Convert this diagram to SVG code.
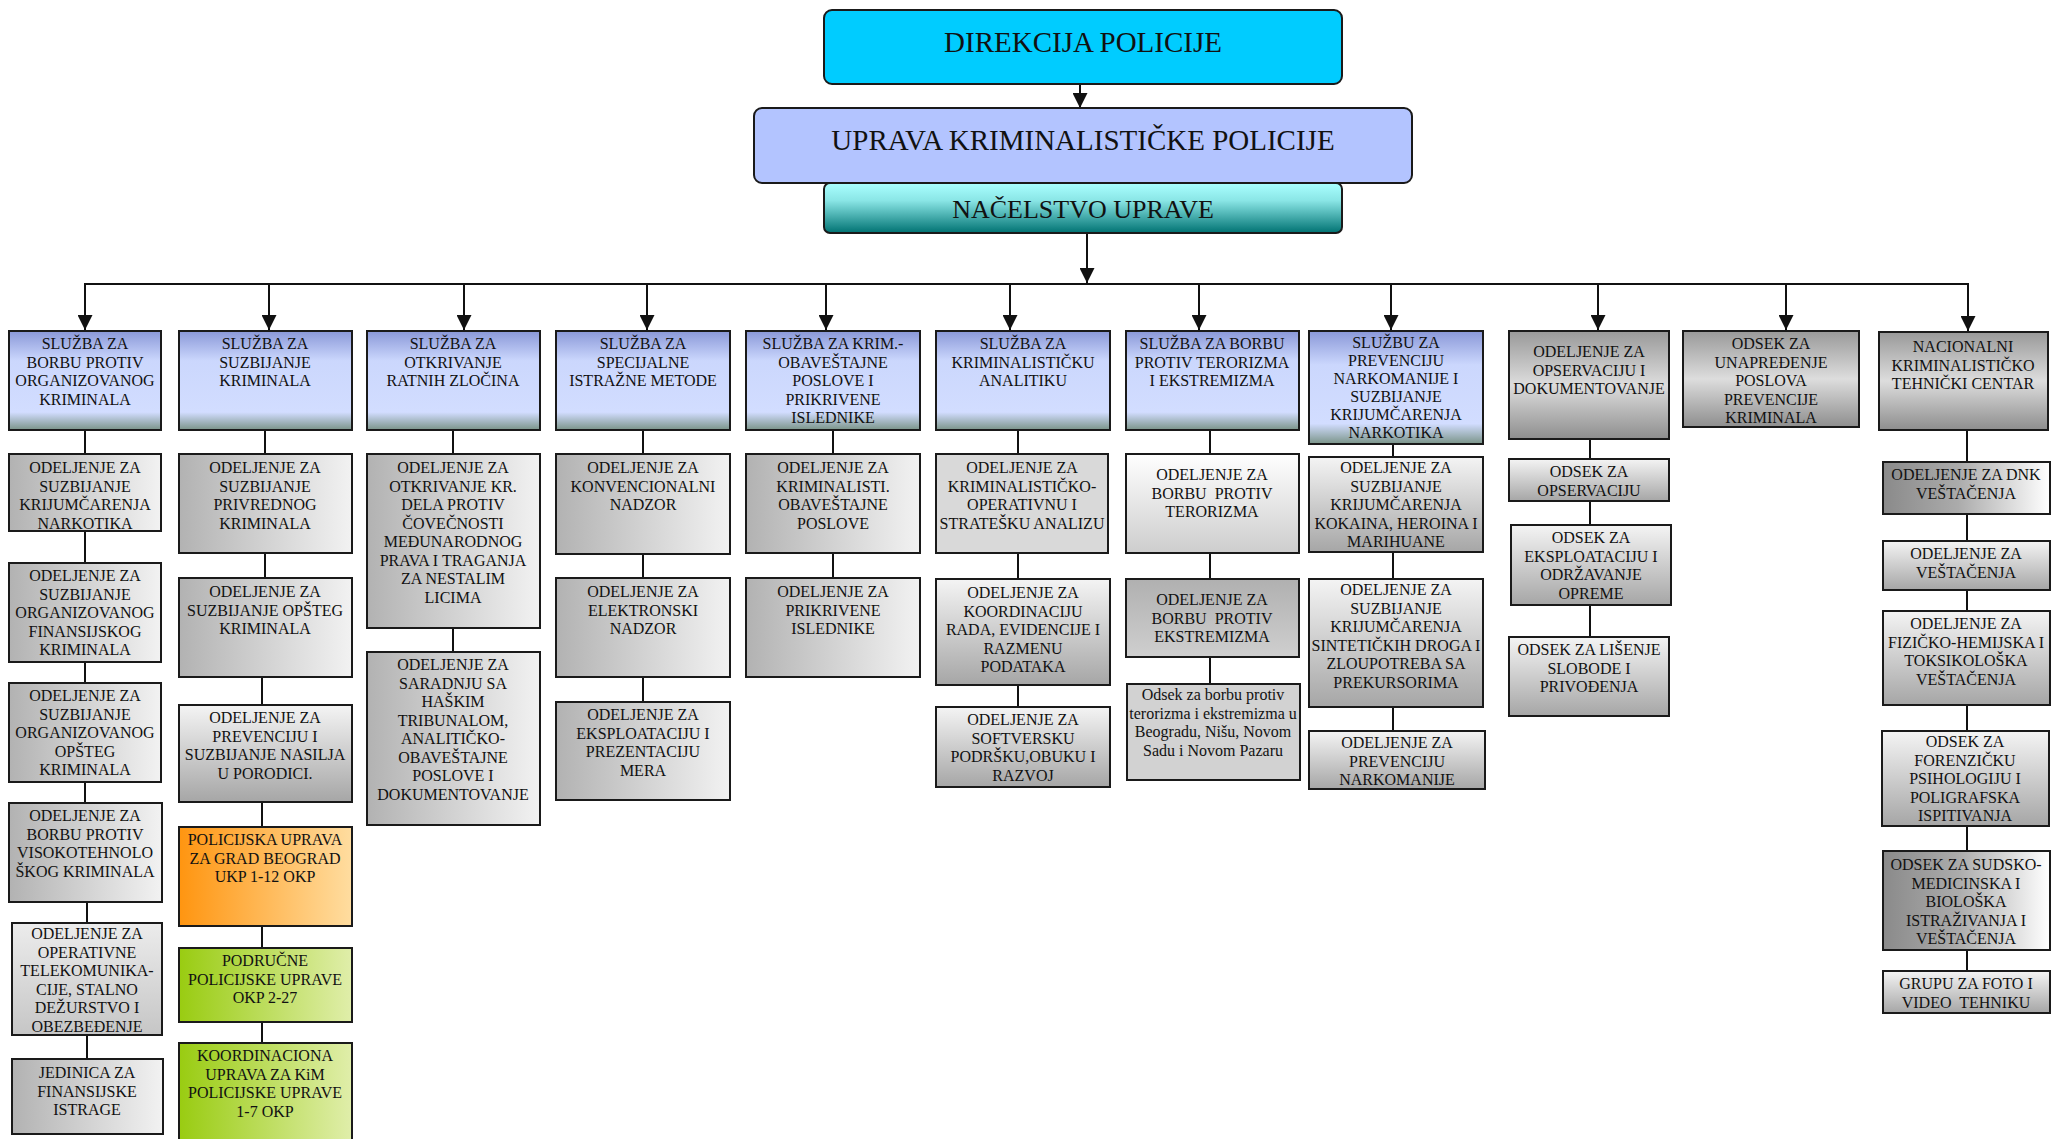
<svg xmlns="http://www.w3.org/2000/svg" width="2051" height="1139" viewBox="0 0 2051 1139">
<style>
.b{stroke:#1a1a1a;stroke-width:2}
.t{font-family:"Liberation Serif","Times New Roman",serif;font-size:16px;fill:#111;text-anchor:middle}
.big{font-family:"Liberation Serif","Times New Roman",serif;fill:#111;text-anchor:middle}
.c{stroke:#111;stroke-width:2;fill:none}
.a{stroke:#111;stroke-width:2;fill:none;marker-end:url(#ar)}
</style>
<defs>
<marker id="ar" viewBox="0 0 10 10" refX="10" refY="5" markerWidth="15" markerHeight="15" markerUnits="userSpaceOnUse" orient="auto"><path d="M0,0 L10,5 L0,10 z" fill="#111"/></marker>
<linearGradient id="blue" x1="0" y1="0" x2="0" y2="1"><stop offset="0" stop-color="#8a98d8"/><stop offset="0.3" stop-color="#cbd7fd"/><stop offset="0.82" stop-color="#d2ddff"/><stop offset="1" stop-color="#7a9488"/></linearGradient>
<linearGradient id="hg" x1="0" y1="0" x2="1" y2="0"><stop offset="0" stop-color="#b2b2b2"/><stop offset="1" stop-color="#f2f2f2"/></linearGradient>
<linearGradient id="vg" x1="0" y1="0" x2="0" y2="1"><stop offset="0" stop-color="#f4f4f4"/><stop offset="1" stop-color="#a6a6a6"/></linearGradient>
<linearGradient id="vl" x1="0" y1="0" x2="0" y2="1"><stop offset="0" stop-color="#ececec"/><stop offset="1" stop-color="#c6c6c6"/></linearGradient>
<linearGradient id="vw" x1="0" y1="0" x2="0" y2="1"><stop offset="0" stop-color="#ffffff"/><stop offset="1" stop-color="#cdcdcd"/></linearGradient>
<linearGradient id="vd" x1="0" y1="0" x2="0" y2="1"><stop offset="0" stop-color="#b0b0b0"/><stop offset="1" stop-color="#cfcfcf"/></linearGradient>
<linearGradient id="vm" x1="0" y1="0" x2="0" y2="1"><stop offset="0" stop-color="#999999"/><stop offset="0.5" stop-color="#dddddd"/><stop offset="1" stop-color="#8e8e8e"/></linearGradient>
<linearGradient id="dk" x1="0" y1="0" x2="1" y2="0"><stop offset="0" stop-color="#8a8a8a"/><stop offset="0.45" stop-color="#ababab"/><stop offset="1" stop-color="#ffffff"/></linearGradient>
<linearGradient id="or" x1="0" y1="0" x2="1" y2="0"><stop offset="0" stop-color="#ff9510"/><stop offset="1" stop-color="#ffdda0"/></linearGradient>
<linearGradient id="gr" x1="0" y1="0" x2="1" y2="0"><stop offset="0" stop-color="#99cc11"/><stop offset="1" stop-color="#e0eeaa"/></linearGradient>
<linearGradient id="teal" x1="0" y1="0" x2="0" y2="1"><stop offset="0" stop-color="#aaffff"/><stop offset="0.35" stop-color="#8ae6e6"/><stop offset="1" stop-color="#007272"/></linearGradient>
</defs>

<g id="connectors">
<path class="a" d="M1080,84 V108"/>
<path class="a" d="M1087,233 V283"/>
<path class="c" d="M84,284 H1969" stroke-width="2.5"/>
<path class="a" d="M85,284 V330"/>
<path class="a" d="M269,284 V330"/>
<path class="a" d="M464,284 V330"/>
<path class="a" d="M647,284 V330"/>
<path class="a" d="M826,284 V330"/>
<path class="a" d="M1010,284 V330"/>
<path class="a" d="M1199,284 V330"/>
<path class="a" d="M1391,284 V330"/>
<path class="a" d="M1598,284 V330"/>
<path class="a" d="M1786,284 V330"/>
<path class="a" d="M1968,284 V331"/>
<path class="c" d="M85,430 V454 M85,531 V563 M85,662 V683 M85,782 V803 M87,902 V923 M87,1035 V1059"/>
<path class="c" d="M265,430 V454 M265,553 V578 M262,677 V705 M262,802 V827 M262,926 V948 M262,1022 V1043"/>
<path class="c" d="M453,430 V454 M453,628 V652"/>
<path class="c" d="M643,430 V454 M643,554 V578 M643,677 V702"/>
<path class="c" d="M833,430 V454 M833,553 V578"/>
<path class="c" d="M1018,430 V454 M1018,553 V579 M1018,685 V707"/>
<path class="c" d="M1210,430 V454 M1210,553 V579 M1210,657 V684"/>
<path class="c" d="M1393,444 V457 M1393,552 V579 M1393,707 V731"/>
<path class="c" d="M1590,439 V459 M1590,501 V525 M1590,605 V637"/>
<path class="c" d="M1967,430 V462 M1967,514 V541 M1967,590 V611 M1967,705 V731 M1967,826 V851 M1967,950 V971"/>
</g>

<g id="direkcija"><rect class="b" x="824" y="10" width="518" height="74" rx="8" fill="#00ccff"/><text class="big" x="1083" y="52" font-size="29">DIREKCIJA POLICIJE</text></g>
<g id="uprava"><rect class="b" x="754" y="108" width="658" height="75" rx="8" fill="#b3c4ff"/><text class="big" x="1083" y="150" font-size="29">UPRAVA KRIMINALISTIČKE POLICIJE</text></g>
<g id="nacelstvo"><rect class="b" x="824" y="183" width="518" height="50" rx="6" fill="url(#teal)"/><text class="big" x="1083" y="218" font-size="26">NAČELSTVO UPRAVE</text></g>

<g id="c1-l1"><rect class="b" x="9" y="331" width="152" height="99" fill="url(#blue)"/><text class="t" y="349"><tspan x="85">SLUŽBA ZA</tspan><tspan x="85" dy="18.5">BORBU PROTIV</tspan><tspan x="85" dy="18.5">ORGANIZOVANOG</tspan><tspan x="85" dy="18.5">KRIMINALA</tspan></text></g>
<g id="c1-1"><rect class="b" x="9" y="454" width="152" height="77" fill="url(#hg)"/><text class="t" y="473"><tspan x="85">ODELJENJE ZA</tspan><tspan x="85" dy="18.5">SUZBIJANJE</tspan><tspan x="85" dy="18.5">KRIJUMČARENJA</tspan><tspan x="85" dy="18.5">NARKOTIKA</tspan></text></g>
<g id="c1-2"><rect class="b" x="9" y="563" width="152" height="99" fill="url(#hg)"/><text class="t" y="581"><tspan x="85">ODELJENJE ZA</tspan><tspan x="85" dy="18.5">SUZBIJANJE</tspan><tspan x="85" dy="18.5">ORGANIZOVANOG</tspan><tspan x="85" dy="18.5">FINANSIJSKOG</tspan><tspan x="85" dy="18.5">KRIMINALA</tspan></text></g>
<g id="c1-3"><rect class="b" x="9" y="683" width="152" height="99" fill="url(#hg)"/><text class="t" y="701"><tspan x="85">ODELJENJE ZA</tspan><tspan x="85" dy="18.5">SUZBIJANJE</tspan><tspan x="85" dy="18.5">ORGANIZOVANOG</tspan><tspan x="85" dy="18.5">OPŠTEG</tspan><tspan x="85" dy="18.5">KRIMINALA</tspan></text></g>
<g id="c1-4"><rect class="b" x="9" y="803" width="153" height="99" fill="url(#hg)"/><text class="t" y="821"><tspan x="85">ODELJENJE ZA</tspan><tspan x="85" dy="18.5">BORBU PROTIV</tspan><tspan x="85" dy="18.5">VISOKOTEHNOLO</tspan><tspan x="85" dy="18.5">ŠKOG KRIMINALA</tspan></text></g>
<g id="c1-5"><rect class="b" x="12" y="923" width="150" height="112" fill="url(#vl)"/><text class="t" y="939"><tspan x="87">ODELJENJE ZA</tspan><tspan x="87" dy="18.5">OPERATIVNE</tspan><tspan x="87" dy="18.5">TELEKOMUNIKA-</tspan><tspan x="87" dy="18.5">CIJE, STALNO</tspan><tspan x="87" dy="18.5">DEŽURSTVO I</tspan><tspan x="87" dy="18.5">OBEZBEĐENJE</tspan></text></g>
<g id="c1-6"><rect class="b" x="12" y="1059" width="151" height="75" fill="url(#hg)"/><text class="t" y="1078"><tspan x="87">JEDINICA ZA</tspan><tspan x="87" dy="18.5">FINANSIJSKE</tspan><tspan x="87" dy="18.5">ISTRAGE</tspan></text></g>

<g id="c2-l1"><rect class="b" x="179" y="331" width="173" height="99" fill="url(#blue)"/><text class="t" y="349"><tspan x="265">SLUŽBA ZA</tspan><tspan x="265" dy="18.5">SUZBIJANJE</tspan><tspan x="265" dy="18.5">KRIMINALA</tspan></text></g>
<g id="c2-1"><rect class="b" x="179" y="454" width="173" height="99" fill="url(#hg)"/><text class="t" y="473"><tspan x="265">ODELJENJE ZA</tspan><tspan x="265" dy="18.5">SUZBIJANJE</tspan><tspan x="265" dy="18.5">PRIVREDNOG</tspan><tspan x="265" dy="18.5">KRIMINALA</tspan></text></g>
<g id="c2-2"><rect class="b" x="179" y="578" width="173" height="99" fill="url(#hg)"/><text class="t" y="597"><tspan x="265">ODELJENJE ZA</tspan><tspan x="265" dy="18.5">SUZBIJANJE OPŠTEG</tspan><tspan x="265" dy="18.5">KRIMINALA</tspan></text></g>
<g id="c2-3"><rect class="b" x="179" y="705" width="173" height="97" fill="url(#vg)"/><text class="t" y="723"><tspan x="265">ODELJENJE ZA</tspan><tspan x="265" dy="18.5">PREVENCIJU I</tspan><tspan x="265" dy="18.5">SUZBIJANJE NASILJA</tspan><tspan x="265" dy="18.5">U PORODICI.</tspan></text></g>
<g id="c2-4"><rect class="b" x="179" y="827" width="173" height="99" fill="url(#or)"/><text class="t" y="845"><tspan x="265">POLICIJSKA UPRAVA</tspan><tspan x="265" dy="18.5">ZA GRAD BEOGRAD</tspan><tspan x="265" dy="18.5">UKP 1-12 OKP</tspan></text></g>
<g id="c2-5"><rect class="b" x="179" y="948" width="173" height="74" fill="url(#gr)"/><text class="t" y="966"><tspan x="265">PODRUČNE</tspan><tspan x="265" dy="18.5">POLICIJSKE UPRAVE</tspan><tspan x="265" dy="18.5">OKP 2-27</tspan></text></g>
<g id="c2-6"><rect class="b" x="179" y="1043" width="173" height="100" fill="url(#gr)" stroke-width="3"/><text class="t" y="1061"><tspan x="265">KOORDINACIONA</tspan><tspan x="265" dy="18.5">UPRAVA ZA KiM</tspan><tspan x="265" dy="18.5">POLICIJSKE UPRAVE</tspan><tspan x="265" dy="18.5">1-7 OKP</tspan></text></g>

<g id="c3-l1"><rect class="b" x="367" y="331" width="173" height="99" fill="url(#blue)"/><text class="t" y="349"><tspan x="453">SLUŽBA ZA</tspan><tspan x="453" dy="18.5">OTKRIVANJE</tspan><tspan x="453" dy="18.5">RATNIH ZLOČINA</tspan></text></g>
<g id="c3-1"><rect class="b" x="367" y="454" width="173" height="174" fill="url(#hg)"/><text class="t" y="473"><tspan x="453">ODELJENJE ZA</tspan><tspan x="453" dy="18.5">OTKRIVANJE KR.</tspan><tspan x="453" dy="18.5">DELA PROTIV</tspan><tspan x="453" dy="18.5">ČOVEČNOSTI</tspan><tspan x="453" dy="18.5">MEĐUNARODNOG</tspan><tspan x="453" dy="18.5">PRAVA I TRAGANJA</tspan><tspan x="453" dy="18.5">ZA NESTALIM</tspan><tspan x="453" dy="18.5">LICIMA</tspan></text></g>
<g id="c3-2"><rect class="b" x="367" y="652" width="173" height="173" fill="url(#hg)"/><text class="t" y="670"><tspan x="453">ODELJENJE ZA</tspan><tspan x="453" dy="18.5">SARADNJU SA</tspan><tspan x="453" dy="18.5">HAŠKIM</tspan><tspan x="453" dy="18.5">TRIBUNALOM,</tspan><tspan x="453" dy="18.5">ANALITIČKO-</tspan><tspan x="453" dy="18.5">OBAVEŠTAJNE</tspan><tspan x="453" dy="18.5">POSLOVE I</tspan><tspan x="453" dy="18.5">DOKUMENTOVANJE</tspan></text></g>

<g id="c4-l1"><rect class="b" x="556" y="331" width="174" height="99" fill="url(#blue)"/><text class="t" y="349"><tspan x="643">SLUŽBA ZA</tspan><tspan x="643" dy="18.5">SPECIJALNE</tspan><tspan x="643" dy="18.5">ISTRAŽNE METODE</tspan></text></g>
<g id="c4-1"><rect class="b" x="556" y="454" width="174" height="100" fill="url(#hg)"/><text class="t" y="473"><tspan x="643">ODELJENJE ZA</tspan><tspan x="643" dy="18.5">KONVENCIONALNI</tspan><tspan x="643" dy="18.5">NADZOR</tspan></text></g>
<g id="c4-2"><rect class="b" x="556" y="578" width="174" height="99" fill="url(#hg)"/><text class="t" y="597"><tspan x="643">ODELJENJE ZA</tspan><tspan x="643" dy="18.5">ELEKTRONSKI</tspan><tspan x="643" dy="18.5">NADZOR</tspan></text></g>
<g id="c4-3"><rect class="b" x="556" y="702" width="174" height="98" fill="url(#hg)"/><text class="t" y="720"><tspan x="643">ODELJENJE ZA</tspan><tspan x="643" dy="18.5">EKSPLOATACIJU I</tspan><tspan x="643" dy="18.5">PREZENTACIJU</tspan><tspan x="643" dy="18.5">MERA</tspan></text></g>

<g id="c5-l1"><rect class="b" x="746" y="331" width="174" height="99" fill="url(#blue)"/><text class="t" y="349"><tspan x="833">SLUŽBA ZA KRIM.-</tspan><tspan x="833" dy="18.5">OBAVEŠTAJNE</tspan><tspan x="833" dy="18.5">POSLOVE I</tspan><tspan x="833" dy="18.5">PRIKRIVENE</tspan><tspan x="833" dy="18.5">ISLEDNIKE</tspan></text></g>
<g id="c5-1"><rect class="b" x="746" y="454" width="174" height="99" fill="url(#hg)"/><text class="t" y="473"><tspan x="833">ODELJENJE ZA</tspan><tspan x="833" dy="18.5">KRIMINALISTI.</tspan><tspan x="833" dy="18.5">OBAVEŠTAJNE</tspan><tspan x="833" dy="18.5">POSLOVE</tspan></text></g>
<g id="c5-2"><rect class="b" x="746" y="578" width="174" height="99" fill="url(#hg)"/><text class="t" y="597"><tspan x="833">ODELJENJE ZA</tspan><tspan x="833" dy="18.5">PRIKRIVENE</tspan><tspan x="833" dy="18.5">ISLEDNIKE</tspan></text></g>

<g id="c6-l1"><rect class="b" x="936" y="331" width="174" height="99" fill="url(#blue)"/><text class="t" y="349"><tspan x="1023">SLUŽBA ZA</tspan><tspan x="1023" dy="18.5">KRIMINALISTIČKU</tspan><tspan x="1023" dy="18.5">ANALITIKU</tspan></text></g>
<g id="c6-1"><rect class="b" x="936" y="454" width="172" height="99" fill="#d9d9d9"/><text class="t" y="473"><tspan x="1022">ODELJENJE ZA</tspan><tspan x="1022" dy="18.5">KRIMINALISTIČKO-</tspan><tspan x="1022" dy="18.5">OPERATIVNU I</tspan><tspan x="1022" dy="18.5">STRATEŠKU ANALIZU</tspan></text></g>
<g id="c6-2"><rect class="b" x="936" y="579" width="174" height="106" fill="url(#vg)"/><text class="t" y="598"><tspan x="1023">ODELJENJE ZA</tspan><tspan x="1023" dy="18.5">KOORDINACIJU</tspan><tspan x="1023" dy="18.5">RADA, EVIDENCIJE I</tspan><tspan x="1023" dy="18.5">RAZMENU</tspan><tspan x="1023" dy="18.5">PODATAKA</tspan></text></g>
<g id="c6-3"><rect class="b" x="936" y="707" width="174" height="80" fill="url(#vg)"/><text class="t" y="725"><tspan x="1023">ODELJENJE ZA</tspan><tspan x="1023" dy="18.5">SOFTVERSKU</tspan><tspan x="1023" dy="18.5">PODRŠKU,OBUKU I</tspan><tspan x="1023" dy="18.5">RAZVOJ</tspan></text></g>

<g id="c7-l1"><rect class="b" x="1126" y="331" width="173" height="99" fill="url(#blue)"/><text class="t" y="349"><tspan x="1212">SLUŽBA ZA BORBU</tspan><tspan x="1212" dy="18.5">PROTIV TERORIZMA</tspan><tspan x="1212" dy="18.5">I EKSTREMIZMA</tspan></text></g>
<g id="c7-1"><rect class="b" x="1126" y="454" width="173" height="99" fill="url(#vw)"/><text class="t" y="480"><tspan x="1212">ODELJENJE ZA</tspan><tspan x="1212" dy="18.5" xml:space="preserve">BORBU  PROTIV</tspan><tspan x="1212" dy="18.5">TERORIZMA</tspan></text></g>
<g id="c7-2"><rect class="b" x="1126" y="579" width="173" height="78" fill="url(#vd)"/><text class="t" y="605"><tspan x="1212">ODELJENJE ZA</tspan><tspan x="1212" dy="18.5" xml:space="preserve">BORBU  PROTIV</tspan><tspan x="1212" dy="18.5">EKSTREMIZMA</tspan></text></g>
<g id="c7-3"><rect class="b" x="1127" y="684" width="173" height="96" fill="#d2d2d2"/><text class="t" y="700"><tspan x="1213">Odsek za borbu protiv</tspan><tspan x="1213" dy="18.5">terorizma i ekstremizma u</tspan><tspan x="1213" dy="18.5">Beogradu, Nišu, Novom</tspan><tspan x="1213" dy="18.5">Sadu i Novom Pazaru</tspan></text></g>

<g id="c8-l1"><rect class="b" x="1309" y="331" width="174" height="113" fill="url(#blue)"/><text class="t" y="348"><tspan x="1396">SLUŽBU ZA</tspan><tspan x="1396" dy="18">PREVENCIJU</tspan><tspan x="1396" dy="18">NARKOMANIJE I</tspan><tspan x="1396" dy="18">SUZBIJANJE</tspan><tspan x="1396" dy="18">KRIJUMČARENJA</tspan><tspan x="1396" dy="18">NARKOTIKA</tspan></text></g>
<g id="c8-1"><rect class="b" x="1309" y="457" width="174" height="95" fill="url(#vg)"/><text class="t" y="473"><tspan x="1396">ODELJENJE ZA</tspan><tspan x="1396" dy="18.5">SUZBIJANJE</tspan><tspan x="1396" dy="18.5">KRIJUMČARENJA</tspan><tspan x="1396" dy="18.5">KOKAINA, HEROINA I</tspan><tspan x="1396" dy="18.5">MARIHUANE</tspan></text></g>
<g id="c8-2"><rect class="b" x="1309" y="579" width="174" height="128" fill="url(#vg)"/><text class="t" y="595"><tspan x="1396">ODELJENJE ZA</tspan><tspan x="1396" dy="18.5">SUZBIJANJE</tspan><tspan x="1396" dy="18.5">KRIJUMČARENJA</tspan><tspan x="1396" dy="18.5">SINTETIČKIH DROGA I</tspan><tspan x="1396" dy="18.5">ZLOUPOTREBA SA</tspan><tspan x="1396" dy="18.5">PREKURSORIMA</tspan></text></g>
<g id="c8-3"><rect class="b" x="1309" y="731" width="176" height="58" fill="url(#vg)"/><text class="t" y="748"><tspan x="1397">ODELJENJE ZA</tspan><tspan x="1397" dy="18.5">PREVENCIJU</tspan><tspan x="1397" dy="18.5">NARKOMANIJE</tspan></text></g>

<g id="c9-l1"><rect class="b" x="1509" y="331" width="160" height="108" fill="url(#vm)"/><text class="t" y="357"><tspan x="1589">ODELJENJE ZA</tspan><tspan x="1589" dy="18.5">OPSERVACIJU I</tspan><tspan x="1589" dy="18.5">DOKUMENTOVANJE</tspan></text></g>
<g id="c9-1"><rect class="b" x="1509" y="459" width="160" height="42" fill="url(#vg)"/><text class="t" y="477"><tspan x="1589">ODSEK ZA</tspan><tspan x="1589" dy="18.5">OPSERVACIJU</tspan></text></g>
<g id="c9-2"><rect class="b" x="1511" y="525" width="160" height="80" fill="url(#vg)"/><text class="t" y="543"><tspan x="1591">ODSEK ZA</tspan><tspan x="1591" dy="18.5">EKSPLOATACIJU I</tspan><tspan x="1591" dy="18.5">ODRŽAVANJE</tspan><tspan x="1591" dy="18.5">OPREME</tspan></text></g>
<g id="c9-3"><rect class="b" x="1509" y="637" width="160" height="79" fill="url(#vg)"/><text class="t" y="655"><tspan x="1589">ODSEK ZA LIŠENJE</tspan><tspan x="1589" dy="18.5">SLOBODE I</tspan><tspan x="1589" dy="18.5">PRIVOĐENJA</tspan></text></g>

<g id="c10-l1"><rect class="b" x="1683" y="331" width="176" height="96" fill="url(#vm)"/><text class="t" y="349"><tspan x="1771">ODSEK ZA</tspan><tspan x="1771" dy="18.5">UNAPREĐENJE</tspan><tspan x="1771" dy="18.5">POSLOVA</tspan><tspan x="1771" dy="18.5">PREVENCIJE</tspan><tspan x="1771" dy="18.5">KRIMINALA</tspan></text></g>

<g id="c11-l1"><rect class="b" x="1879" y="332" width="169" height="98" fill="url(#vm)"/><text class="t" y="352"><tspan x="1963">NACIONALNI</tspan><tspan x="1963" dy="18.5">KRIMINALISTIČKO</tspan><tspan x="1963" dy="18.5">TEHNIČKI CENTAR</tspan></text></g>
<g id="c11-1"><rect class="b" x="1883" y="462" width="167" height="52" fill="url(#dk)"/><text class="t" y="480"><tspan x="1966">ODELJENJE ZA DNK</tspan><tspan x="1966" dy="18.5">VEŠTAČENJA</tspan></text></g>
<g id="c11-2"><rect class="b" x="1883" y="541" width="167" height="49" fill="url(#vg)"/><text class="t" y="559"><tspan x="1966">ODELJENJE ZA</tspan><tspan x="1966" dy="18.5">VEŠTAČENJA</tspan></text></g>
<g id="c11-3"><rect class="b" x="1883" y="611" width="167" height="94" fill="url(#vg)"/><text class="t" y="629"><tspan x="1966">ODELJENJE ZA</tspan><tspan x="1966" dy="18.5">FIZIČKO-HEMIJSKA I</tspan><tspan x="1966" dy="18.5">TOKSIKOLOŠKA</tspan><tspan x="1966" dy="18.5">VEŠTAČENJA</tspan></text></g>
<g id="c11-4"><rect class="b" x="1882" y="731" width="167" height="95" fill="url(#vg)"/><text class="t" y="747"><tspan x="1965">ODSEK ZA</tspan><tspan x="1965" dy="18.5">FORENZIČKU</tspan><tspan x="1965" dy="18.5">PSIHOLOGIJU I</tspan><tspan x="1965" dy="18.5">POLIGRAFSKA</tspan><tspan x="1965" dy="18.5">ISPITIVANJA</tspan></text></g>
<g id="c11-5"><rect class="b" x="1883" y="851" width="167" height="99" fill="url(#dk)"/><text class="t" y="870"><tspan x="1966">ODSEK ZA SUDSKO-</tspan><tspan x="1966" dy="18.5">MEDICINSKA I</tspan><tspan x="1966" dy="18.5">BIOLOŠKA</tspan><tspan x="1966" dy="18.5">ISTRAŽIVANJA I</tspan><tspan x="1966" dy="18.5">VEŠTAČENJA</tspan></text></g>
<g id="c11-6"><rect class="b" x="1883" y="971" width="167" height="42" fill="url(#vg)"/><text class="t" y="989"><tspan x="1966">GRUPU ZA FOTO I</tspan><tspan x="1966" dy="18.5" xml:space="preserve">VIDEO  TEHNIKU</tspan></text></g>
</svg>
